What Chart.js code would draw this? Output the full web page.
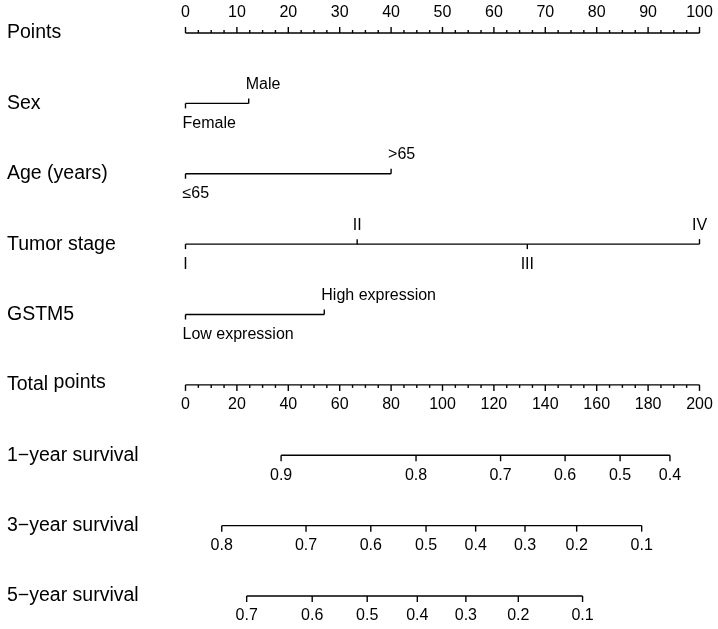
<!DOCTYPE html>
<html>
<head>
<meta charset="utf-8">
<script src="https://cdn.jsdelivr.net/npm/chart.js@4/dist/chart.umd.min.js"></script>
<style>
body { margin: 0; background: #fff; }
#wrap { width: 718px; height: 629px; }
</style>
</head>
<body>
<div id="wrap"><canvas id="chart" width="718" height="629"></canvas></div>
<script>
var rowNames = ["Points", "Sex", "Age (years)", "Tumor stage", "GSTM5", "Total points",
    "1\u2212year survival", "3\u2212year survival", "5\u2212year survival"];

var pointTicks = [0, 10, 20, 30, 40, 50, 60, 70, 80, 90, 100];
var totalTicks = [0, 20, 40, 60, 80, 100, 120, 140, 160, 180, 200];

var sexLevels = ["Female", "Male"];
var sexPoints = [0, 12.3];
var ageLevels = ["\u226465", ">65"];
var agePoints = [0, 40];
var stageLevels = ["I", "II", "III", "IV"];
var stagePoints = [0, 33.4, 66.5, 100];
var gstm5Levels = ["Low expression", "High expression"];
var gstm5Points = [0, 27];

var surv1Probs = [0.9, 0.8, 0.7, 0.6, 0.5, 0.4];
var surv1Total = [37.2, 89.7, 122.6, 147.7, 169.1, 188.5];
var surv3Probs = [0.8, 0.7, 0.6, 0.5, 0.4, 0.3, 0.2, 0.1];
var surv3Total = [14.1, 46.9, 72.1, 93.6, 112.9, 132.1, 152.2, 177.5];
var surv5Probs = [0.7, 0.6, 0.5, 0.4, 0.3, 0.2, 0.1];
var surv5Total = [23.8, 49.3, 70.7, 90.2, 109.1, 129.5, 154.5];

var font = "'Liberation Sans', Arial, sans-serif";

// rows 1-4: categorical predictors, rows 6-8: survival scales
var factorRows = [
    { row: 1, levels: sexLevels, points: sexPoints, align: "left" },
    { row: 2, levels: ageLevels, points: agePoints, align: "left" },
    { row: 3, levels: stageLevels, points: stagePoints, align: "center" },
    { row: 4, levels: gstm5Levels, points: gstm5Points, align: "left" }
];
var survRows = [
    { row: 6, probs: surv1Probs, total: surv1Total },
    { row: 7, probs: surv3Probs, total: surv3Total },
    { row: 8, probs: surv5Probs, total: surv5Total }
];

function segment(row, from, to, axis) {
    return {
        type: "line",
        data: [{ x: from, y: row }, { x: to, y: row }],
        xAxisID: axis,
        borderColor: "#000",
        borderWidth: 1.4,
        pointRadius: 0,
        clip: false
    };
}

function buildDatasets() {
    var sets = [];
    sets.push(segment(0, pointTicks[0], pointTicks[pointTicks.length - 1], "x"));
    factorRows.forEach(function (r) {
        sets.push(segment(r.row, Math.min.apply(null, r.points), Math.max.apply(null, r.points), "x"));
    });
    sets.push(segment(5, totalTicks[0], totalTicks[totalTicks.length - 1], "xTotal"));
    survRows.forEach(function (r) {
        sets.push(segment(r.row, r.total[0], r.total[r.total.length - 1], "xTotal"));
    });
    return sets;
}

function tick(ctx, px, py, len) {
    ctx.beginPath();
    ctx.moveTo(px, py);
    ctx.lineTo(px, py + len);
    ctx.stroke();
}

var nomogram = {
    id: "nomogram",
    afterDatasetsDraw: function (chart) {
        var ctx = chart.ctx;
        var x = chart.scales.x;
        var xt = chart.scales.xTotal;
        var y = chart.scales.y;
        ctx.save();
        ctx.fillStyle = "#000";
        ctx.strokeStyle = "#000";
        ctx.lineWidth = 1.4;
        ctx.textBaseline = "middle";

        // row names ("points" in "Total points" sits a little higher, as in the original)
        ctx.font = "19.5px " + font;
        ctx.textAlign = "left";
        rowNames.forEach(function (name, i) {
            var ny = y.getPixelForValue(i);
            if (name == "Total points") {
                var first = "Total ";
                ctx.fillText(first, 7, ny);
                ctx.fillText("points", 7 + ctx.measureText(first).width, ny - 2);
            } else {
                ctx.fillText(name, 7, ny);
            }
        });

        ctx.font = "16px " + font;
        ctx.textAlign = "center";

        // points scale, ticks upward
        var py = y.getPixelForValue(0);
        for (var v = 0; v <= 100; v += 2.5) {
            var major = pointTicks.indexOf(v) > -1;
            tick(ctx, x.getPixelForValue(v), py, major ? -6 : -3);
        }
        pointTicks.forEach(function (v) {
            ctx.fillText(String(v), x.getPixelForValue(v), py - 20);
        });

        // predictors
        factorRows.forEach(function (r) {
            var ry = y.getPixelForValue(r.row);
            r.levels.forEach(function (name, i) {
                var px = x.getPixelForValue(r.points[i]);
                var down = i % 2 == 0;
                tick(ctx, px, ry, down ? 5 : -5);
                ctx.textAlign = r.align;
                ctx.fillText(name, r.align == "left" ? px - 3 : px, ry + (down ? 20 : -19));
            });
        });

        // total points, ticks downward
        ctx.textAlign = "center";
        var ty = y.getPixelForValue(5);
        for (var t = 0; t <= 200; t += 5) {
            var big = totalTicks.indexOf(t) > -1;
            tick(ctx, xt.getPixelForValue(t), ty, big ? 6 : 3);
        }
        totalTicks.forEach(function (t) {
            ctx.fillText(String(t), xt.getPixelForValue(t), ty + 20);
        });

        // survival scales
        survRows.forEach(function (r) {
            var sy = y.getPixelForValue(r.row);
            r.probs.forEach(function (p, i) {
                var px = xt.getPixelForValue(r.total[i]);
                tick(ctx, px, sy, 6);
                ctx.fillText(p.toFixed(1), px, sy + 20);
            });
        });
        ctx.restore();
    }
};

var chart = new Chart(document.getElementById("chart"), {
    type: "line",
    data: { datasets: buildDatasets() },
    options: {
        responsive: false,
        animation: false,
        layout: { padding: { left: 185.5, right: 18.5, top: 33, bottom: 33 } },
        scales: {
            x: { type: "linear", min: 0, max: 100, display: false },
            xTotal: { type: "linear", min: 0, max: 200, display: false },
            y: { type: "linear", min: 0, max: 8, reverse: true, display: false }
        },
        plugins: { legend: { display: false }, tooltip: { enabled: false } }
    },
    plugins: [nomogram]
});
</script>
</body>
</html>
